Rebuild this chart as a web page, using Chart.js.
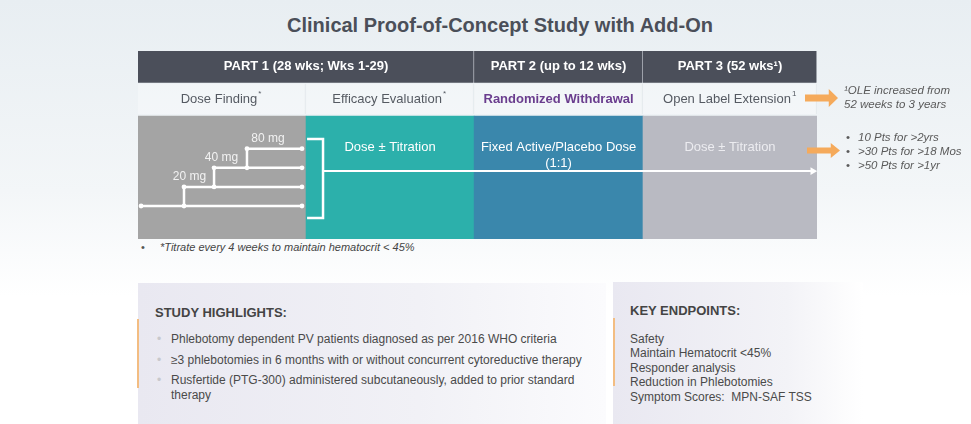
<!DOCTYPE html>
<html>
<head>
<meta charset="utf-8">
<script src="https://cdn.jsdelivr.net/npm/chart.js@4"></script>
<style>
  body { margin: 0; width: 971px; height: 424px; overflow: hidden; font-family: "Liberation Sans", Arial, sans-serif;
         background: linear-gradient(180deg, #e8eef2 0%, #f3f6f8 45%, #ffffff 70%); position: relative; }
  .abs { position: absolute; }
  #title { left: 0; width: 1000px; top: 14px; text-align: center; font-size: 20px; font-weight: bold; color: #4b4f59; }
  #wrap { left: 138px; top: 51px; width: 679px; height: 188px; }
  .arrow { background: #f5aa5b; clip-path: polygon(0 30%, 72% 30%, 72% 0, 100% 50%, 72% 100%, 72% 70%, 0 70%); }
  .note { font-size: 11.5px; font-style: italic; color: #5a5a5a; line-height: 14px; }
  .box { font-size: 12px; color: #4a4a4a; }
  .box h4 { margin: 0; font-size: 13px; color: #444; }
  .bar { width: 2px; background: #f3bd82; }
  .dot { color: #c8c8cc; }
</style>
</head>
<body>
<div id="title" class="abs">Clinical Proof-of-Concept Study with Add-On</div>
<div id="wrap" class="abs"><canvas id="trial"></canvas></div>

<div class="abs arrow" style="left:805px;top:89px;width:33px;height:18px"></div>
<div class="abs arrow" style="left:807px;top:143px;width:33px;height:15px"></div>
<div class="abs note" style="left:844px;top:83px">¹OLE increased from<br>52 weeks to 3 years</div>
<div class="abs note" id="ptsNote" style="left:846px;top:130px"></div>

<div class="abs" style="left:141px;top:241px;font-size:11px;color:#555">•</div>
<div class="abs" style="left:160px;top:241px;font-size:11px;font-style:italic;color:#444">*Titrate every 4 weeks to maintain hematocrit &lt; 45%</div>

<div class="abs box" style="left:138px;top:283px;width:468px;height:141px;background:linear-gradient(90deg,#e9e8f1 0%,#f1f1f6 60%,#fbfbfd 100%)">
  <div class="abs bar" style="left:-1px;top:36px;height:69px"></div>
  <h4 class="abs" style="left:17px;top:22px">STUDY HIGHLIGHTS:</h4>
  <div class="abs" id="highlights" style="left:17px;top:49px;width:445px"></div>
</div>
<div class="abs box" style="left:613px;top:282px;width:250px;height:142px;background:linear-gradient(90deg,#e9e8f1 0%,#f3f3f7 70%,#ffffff 100%)">
  <div class="abs bar" style="left:0;top:36px;height:68px"></div>
  <h4 class="abs" style="left:17px;top:21px">KEY ENDPOINTS:</h4>
  <div class="abs" id="endpoints" style="left:17px;top:50px;line-height:14.4px"></div>
</div>

<script>
// phases along the trial (x units: roughly one unit per stage column)
const partNames = ['PART 1 (28 wks; Wks 1-29)', 'PART 2 (up to 12 wks)', 'PART 3 (52 wks\u00b9)'];
const partSpans = [[0, 1.98], [1.98, 2.975], [2.975, 4]];
const stageNames = ['Dose Finding', 'Efficacy Evaluation', 'Randomized Withdrawal', 'Open Label Extension'];
const stageMarks = ['*', '*', '', '1'];
const stageSpans = [[0, 0.99], [0.99, 1.98], [1.98, 2.975], [2.975, 4]];
const stageColors = ['#a4a4a4', '#2cb0ab', '#3a87ac', '#b9bac2'];
const stageTreatment = [[], ['Dose \u00b1 Titration'], ['Fixed Active/Placebo Dose', '(1:1)'], ['Dose \u00b1 Titration']];

// dose escalation staircase (lanes 0..3)
const doseLabels = ['20 mg', '40 mg', '80 mg'];
const doseLanes = [1, 2, 3];
const doseStepAt = [0.271, 0.448, 0.642];
const doseLabelAt = [0.303, 0.492, 0.766];
const laneStart = 0.018;
const laneEnd = 0.966;

const olePatients = ['10 Pts for >2yrs', '>30 Pts for >18 Mos', '>50 Pts for >1yr'];
const highlights = [
  'Phlebotomy dependent PV patients diagnosed as per 2016 WHO criteria',
  '\u22653 phlebotomies in 6 months with or without concurrent cytoreductive therapy',
  'Rusfertide (PTG-300) administered subcutaneously, added to prior standard therapy'
];
const endpoints = ['Safety', 'Maintain Hematocrit <45%', 'Responder analysis', 'Reduction in Phlebotomies', 'Symptom Scores:&nbsp; MPN-SAF TSS'];

document.getElementById('ptsNote').innerHTML = olePatients.map(t =>
  '<div><span style="font-style:normal;display:inline-block;width:12px">•</span>' + t.replace(/</g, '&lt;').replace(/>/g, '&gt;') + '</div>').join('');
document.getElementById('highlights').innerHTML = highlights.map(t =>
  '<div style="position:relative;padding-left:16px;margin-bottom:6px;line-height:14.5px"><span class="dot" style="position:absolute;left:2px">•</span>' + t + '</div>').join('');
document.getElementById('endpoints').innerHTML = endpoints.map(t => '<div>' + t + '</div>').join('');

// row positions on the y scale
const headerRow = 7.3, subRow = 5.6, bodyRow = 1.49, treatRow = 3.09;
const bracketTop = 3.51, bracketBottom = -0.63, arrowLane = 1.83;

const datasets = [];
datasets.push({
  type: 'bar', indexAxis: 'y', stack: 'band', grouped: true, barThickness: 32, order: 2,
  data: partSpans.map(s => ({ x: s, y: headerRow })),
  backgroundColor: '#4b4f5a', borderColor: '#c8ccd3', borderWidth: { left: 0, top: 0, bottom: 0, right: 1 }, borderSkipped: false
});
datasets.push({
  type: 'bar', indexAxis: 'y', stack: 'band', grouped: true, barThickness: 30, order: 2,
  data: stageSpans.map(s => ({ x: s, y: subRow })),
  backgroundColor: 'rgba(255,255,255,0.3)', borderColor: 'rgba(220,226,230,0.6)', borderWidth: { left: 0, top: 0, bottom: 0, right: 1 }, borderSkipped: false
});
datasets.push({
  type: 'bar', indexAxis: 'y', stack: 'band', grouped: true, barThickness: 123, order: 2,
  data: stageSpans.map(s => ({ x: s, y: bodyRow })),
  backgroundColor: stageColors, borderWidth: 0
});

const lineStyle = { type: 'line', order: 1, borderColor: '#ffffff', borderWidth: 2.5, pointBackgroundColor: '#ffffff',
  pointBorderWidth: 0, pointRadius: 2.4, tension: 0, fill: false };
datasets.push(Object.assign({}, lineStyle, { data: [{ x: laneStart, y: 0 }, { x: laneEnd, y: 0 }] }));
doseLanes.forEach((lane, i) => {
  datasets.push(Object.assign({}, lineStyle, {
    data: [{ x: doseStepAt[i], y: lane - 1 }, { x: doseStepAt[i], y: lane }, { x: laneEnd, y: lane }]
  }));
});
// bracket collecting the doses into the efficacy phase
datasets.push(Object.assign({}, lineStyle, { pointRadius: 0,
  data: [{ x: 0.996, y: bracketTop }, { x: 1.09, y: bracketTop }, { x: 1.09, y: bracketBottom }, { x: 0.996, y: bracketBottom }] }));
// continuing treatment arrow
datasets.push(Object.assign({}, lineStyle, { borderWidth: 2,
  pointRadius: [0, 4.5], pointStyle: 'triangle', pointRotation: 90,
  data: [{ x: 1.09, y: arrowLane }, { x: 3.975, y: arrowLane }] }));

const textPlugin = {
  id: 'diagramText',
  afterDatasetsDraw(chart) {
    const { ctx, scales: { x, y } } = chart;
    ctx.save();
    ctx.textAlign = 'center';
    ctx.textBaseline = 'middle';
    // header
    ctx.font = 'bold 13px "Liberation Sans", Arial, sans-serif';
    ctx.fillStyle = '#ffffff';
    partNames.forEach((t, i) => ctx.fillText(t, x.getPixelForValue((partSpans[i][0] + partSpans[i][1]) / 2), y.getPixelForValue(headerRow)));
    // stage names
    stageNames.forEach((t, i) => {
      const bold = i === 2;
      ctx.font = (bold ? 'bold ' : '') + '13px "Liberation Sans", Arial, sans-serif';
      ctx.fillStyle = bold ? '#6a3d8e' : '#555a62';
      const cx = x.getPixelForValue((stageSpans[i][0] + stageSpans[i][1]) / 2) - (stageMarks[i] ? 3 : 0);
      const cy = y.getPixelForValue(subRow);
      ctx.fillText(t, cx, cy);
      if (stageMarks[i]) {
        const w = ctx.measureText(t).width;
        ctx.font = '8px "Liberation Sans", Arial, sans-serif';
        ctx.textAlign = 'left';
        ctx.fillText(stageMarks[i], cx + w / 2 + 1, cy - 5);
        ctx.textAlign = 'center';
      }
    });
    // treatments
    ctx.font = '13px "Liberation Sans", Arial, sans-serif';
    stageTreatment.forEach((lines, i) => {
      ctx.fillStyle = i === 3 ? '#ececf0' : '#ffffff';
      lines.forEach((t, k) => ctx.fillText(t, x.getPixelForValue((stageSpans[i][0] + stageSpans[i][1]) / 2), y.getPixelForValue(treatRow) + k * 16));
    });
    // dose labels
    ctx.font = '12px "Liberation Sans", Arial, sans-serif';
    ctx.fillStyle = '#f2f2f2';
    doseLabels.forEach((t, i) => ctx.fillText(t, x.getPixelForValue(doseLabelAt[i]), y.getPixelForValue(doseLanes[i]) - 10.5));
    ctx.restore();
  }
};

new Chart(document.getElementById('trial'), {
  type: 'bar',
  data: { datasets },
  options: {
    responsive: true, maintainAspectRatio: false, animation: false,
    layout: { padding: 0, autoPadding: false },
    plugins: { legend: { display: false }, tooltip: { enabled: false } },
    scales: {
      x: { type: 'linear', min: 0, max: 4, display: false, stacked: false, offset: false, grid: { offset: false } },
      y: { type: 'linear', min: -1.73, max: 8.12, display: false, offset: false, grid: { offset: false } }
    }
  },
  plugins: [textPlugin]
});
</script>
</body>
</html>
